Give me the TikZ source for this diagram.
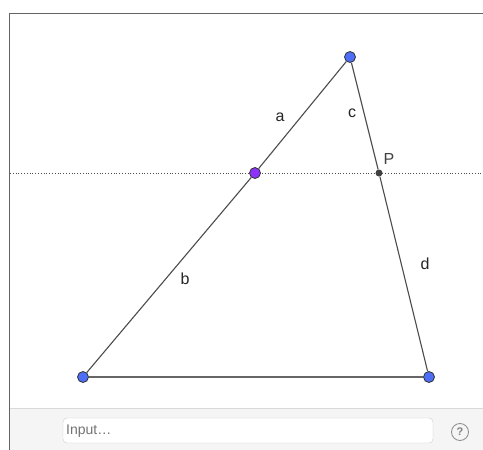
\documentclass[tikz,border=0pt]{standalone}
\usepackage{fontspec}
\setmainfont{Liberation Sans}
\usepackage{tikz}
\usetikzlibrary{positioning}
\definecolor{ptblue}{RGB}{77,110,245}
\definecolor{ptpurple}{RGB}{140,50,250}
\definecolor{framegray}{RGB}{100,100,100}
\definecolor{bargray}{RGB}{245,245,245}

\begin{document}
\begin{tikzpicture}[x=1pt, y=-1pt,
Pnode/.style={circle, draw=black!80, fill=ptblue, line width=0.8pt, inner sep=0pt, minimum size=11pt},
Mnode/.style={circle, draw=black!80, fill=ptpurple, line width=0.8pt, inner sep=0pt, minimum size=11pt},
Inode/.style={circle, fill=black!75, inner sep=0pt, minimum size=7pt},
Lnode/.style={font=\fontsize{16}{19}\selectfont, text=black!85}
]
\useasboundingbox (0,0) rectangle (483,450);
\fill[white] (0,0) rectangle (483,450);
%Frame and input bar
\fill[bargray] (10,408) rectangle (483,450);
\draw[black!15] (10,408) -- (483,408);
\draw[framegray, line width=0.9pt] (9.5,450) -- (9.5,13.5) -- (483,13.5);
\draw[black!20, fill=white, rounded corners=4pt] (63,418) rectangle (433,443);
\node[anchor=west, text=black!55, font=\fontsize{14}{16}\selectfont, inner sep=0pt] (input) at (66,431) {Input\ldots};
\node[circle, draw=black!45, thick, text=black!50, font=\fontsize{11}{12}\selectfont\bfseries, inner sep=0pt, minimum size=17pt] (help) at (460,432) {?};

%Dotted line
\coordinate (L) at (10,173);
\coordinate (R) at (483,173);
\draw[black!70, dotted, line width=0.8pt] (L) -- (R);

%Nodes
\node[Pnode] (A) at (350,57) {};
\node[Pnode] (B) at (83,377) {};
\node[Pnode] (C) at (429,377) {};
\node[Mnode] (M) at (255,173) {};
\node[Inode] (P) at (379,173) {};

%Lines
\draw[black!70, line width=1.1pt] (A) -- (M);
\draw[black!70, line width=1.1pt] (M) -- (B);
\draw[black!70, line width=1.1pt] (A) -- (P);
\draw[black!70, line width=1.1pt] (P) -- (C);
\draw[black!60, line width=1.4pt] (B) -- (C);

%Labels
\node[Lnode] (la) at (280,117) {a};
\node[Lnode] (lc) at (352,113) {c};
\node[Lnode] (lb) at (185,279) {b};
\node[Lnode] (ld) at (425,264) {d};
\node[Lnode, text=black!75] (lP) at (389,159) {P};
\end{tikzpicture}
\end{document}
